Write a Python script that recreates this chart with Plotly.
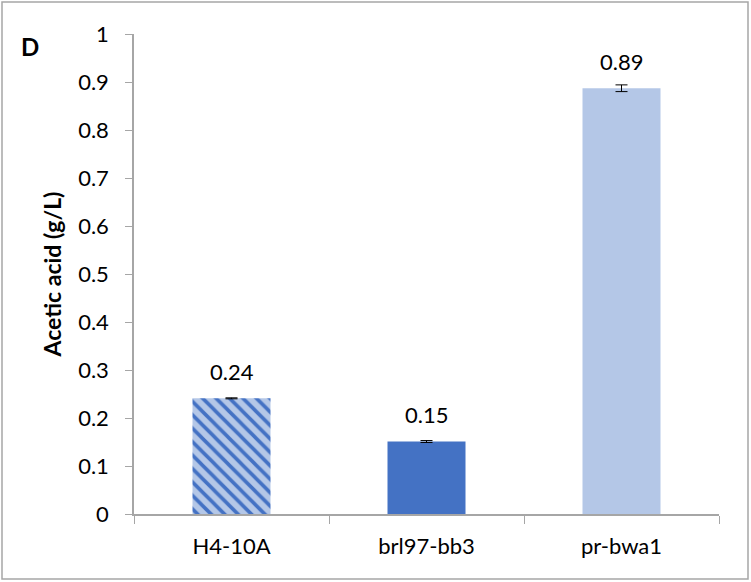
import plotly.graph_objects as go

# Acetic acid produced by each strain
strains = ["H4-10A", "brl97-bb3", "pr-bwa1"]
acetic_acid = [0.241, 0.151, 0.887]
acetic_err = [0.001, 0.002, 0.007]
value_labels = ["0.24", "0.15", "0.89"]
y_ticks = [0, 0.1, 0.2, 0.3, 0.4, 0.5, 0.6, 0.7, 0.8, 0.9, 1]
y_tick_text = ["0", "0.1", "0.2", "0.3", "0.4", "0.5", "0.6", "0.7", "0.8", "0.9", "1"]

FONT = "Lato"
AXIS_GRAY = "#A6A6A6"
TXT = 22
LIGHT_BLUE = "#B4C7E7"
MID_BLUE = "#4472C4"

fig = go.Figure()

# Parent strain: light blue bar with dark blue diagonal hatching
fig.add_trace(go.Bar(
    x=strains[:1],
    y=acetic_acid[:1],
    width=0.4,
    marker=dict(
        color=LIGHT_BLUE,
        line=dict(width=0),
        pattern=dict(
            shape="\\",
            fillmode="replace",
            bgcolor=LIGHT_BLUE,
            fgcolor=MID_BLUE,
            fgopacity=1,
            size=9.5,
            solidity=0.38,
        ),
    ),
    error_y=dict(type="data", array=acetic_err[:1], color="black", thickness=1, width=6),
    hoverinfo="x+y",
))

# Mutant strains: solid fills
fig.add_trace(go.Bar(
    x=strains[1:],
    y=acetic_acid[1:],
    width=0.4,
    marker=dict(color=[MID_BLUE, LIGHT_BLUE], line=dict(width=0)),
    error_y=dict(type="data", array=acetic_err[1:], color="black", thickness=1, width=6),
    hoverinfo="x+y",
))

# Value labels above each bar
for s, v, t in zip(strains, acetic_acid, value_labels):
    fig.add_annotation(x=s, y=v, text=t, showarrow=False, yshift=27,
                       font=dict(family=FONT, size=TXT, color="black"))

# Panel letter
fig.add_annotation(xref="paper", yref="paper", x=-0.178, y=0.975, text="<b>D</b>",
                   showarrow=False, xanchor="center", yanchor="middle",
                   font=dict(family=FONT, size=24, color="black"))

# Outer chart border
fig.add_shape(type="rect", xref="paper", yref="paper",
              x0=-132 / 585, x1=1 + 29 / 585, y0=-65 / 480, y1=1 + 32 / 480,
              line=dict(color=AXIS_GRAY, width=1.5), fillcolor="rgba(0,0,0,0)")

fig.update_layout(
    width=751,
    height=582,
    margin=dict(l=134, r=32, t=34, b=68),
    plot_bgcolor="white",
    paper_bgcolor="white",
    showlegend=False,
    barmode="overlay",
    font=dict(family=FONT, size=TXT, color="black"),
    xaxis=dict(
        type="category",
        categoryorder="array",
        categoryarray=strains,
        showline=True,
        linecolor=AXIS_GRAY,
        linewidth=1.5,
        ticks="outside",
        tickson="boundaries",
        ticklen=8,
        tickcolor=AXIS_GRAY,
        showgrid=False,
        zeroline=False,
        tickfont=dict(family=FONT, size=TXT, color="black"),
        ticklabelstandoff=12,
    ),
    yaxis=dict(
        range=[0, 1],
        tickvals=y_ticks,
        ticktext=y_tick_text,
        showline=True,
        linecolor=AXIS_GRAY,
        linewidth=1.5,
        ticks="outside",
        ticklen=7,
        tickcolor=AXIS_GRAY,
        showgrid=False,
        zeroline=False,
        tickfont=dict(family=FONT, size=TXT, color="black"),
        ticklabelstandoff=12,
        title=dict(text="<b>Acetic acid (g/L)</b>", font=dict(family=FONT, size=23, color="black"),
                   standoff=10),
    ),
)

fig.write_html("out.html")
